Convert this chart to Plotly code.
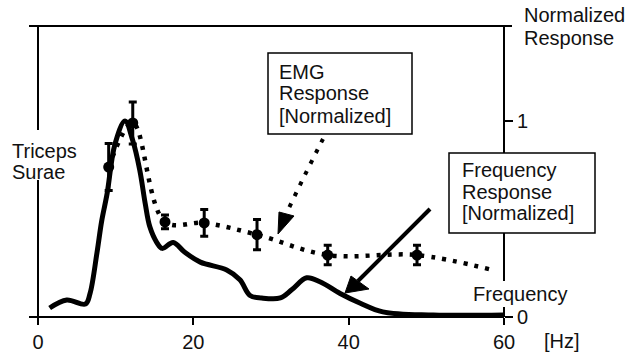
import plotly.graph_objects as go

# ---------------- data ----------------
freq_hz = [1.5, 3.7, 6.1, 6.7, 7.6, 8.2, 8.9, 9.9, 11.2, 12.2, 13.1, 13.8, 14.4, 15.3, 16.0,
           17.4, 18.9, 20.9, 24.3, 26.0, 27.3, 28.8, 31.2, 32.7, 34.6, 36.3, 38.9, 41.5,
           44.4, 50.9, 59.9]
freq_resp = [0.046, 0.087, 0.066, 0.12, 0.33, 0.49, 0.63, 0.88, 1.0, 0.9, 0.75, 0.58, 0.46,
             0.38, 0.35, 0.38, 0.33, 0.28, 0.24, 0.19, 0.11, 0.097, 0.097, 0.14, 0.2, 0.18,
             0.12, 0.07, 0.026, 0.01, 0.01]

emg_hz = [9.1, 12.2, 16.35, 21.4, 28.2, 37.3, 48.8]
emg_resp = [0.765, 0.99, 0.485, 0.48, 0.42, 0.316, 0.316]
emg_err = [0.12, 0.107, 0.035, 0.068, 0.077, 0.05, 0.05]
emg_tail_hz = [58.5]
emg_tail_resp = [0.24]

x_ticks = [0, 20, 40, 60]
x_tick_labels = ["0", "20", "40", "60"]
y_ticks = [0, 1]
y_tick_labels = ["0", "1"]

FONT = "Liberation Sans, Arial, Helvetica, sans-serif"
FS = 20

# plot area in pixels
L, R, T, B = 38, 504, 26, 317
W, H = 629, 353


def P(x, y):
    return (x - L) / (R - L), (B - y) / (B - T)


fig = go.Figure()

fig.add_trace(go.Scatter(
    x=freq_hz, y=freq_resp, mode="lines",
    line=dict(color="black", width=5, shape="spline", smoothing=1.0),
    hoverinfo="skip", showlegend=False))

fig.add_trace(go.Scatter(
    x=emg_hz + emg_tail_hz, y=emg_resp + emg_tail_resp, mode="lines",
    line=dict(color="black", width=4.5, shape="spline", dash="4px,7px"),
    hoverinfo="skip", showlegend=False))

fig.add_trace(go.Scatter(
    x=emg_hz, y=emg_resp, mode="markers",
    marker=dict(color="black", size=11),
    error_y=dict(type="data", array=emg_err, color="black", thickness=3, width=4),
    hoverinfo="skip", showlegend=False))

shapes = []


def seg(x0, y0, x1, y1, w=2):
    a = P(x0, y0)
    b = P(x1, y1)
    shapes.append(dict(type="line", xref="paper", yref="paper",
                       x0=a[0], y0=a[1], x1=b[0], y1=b[1],
                       line=dict(color="black", width=w)))


def poly(pts, w=1, fill=None):
    s = ""
    for i, (x, y) in enumerate(pts):
        px, py = P(x, y)
        s += ("M" if i == 0 else "L") + f" {px:.5f},{py:.5f} "
    s += "Z"
    d = dict(type="path", xref="paper", yref="paper", path=s,
             line=dict(color="black", width=w))
    if fill:
        d["fillcolor"] = fill
    shapes.append(d)


# axis frame
seg(29, 26, 512, 26)
seg(38, 26, 38, 130)
seg(38, 180, 38, 317)
seg(29, 317, 504, 317)
seg(504, 26, 504, 153)
seg(504, 233, 504, 281)
seg(504, 307, 504, 317)

# boxes
for (x0, y0, x1, y1) in [(268, 53, 412, 134), (449, 153, 595, 233)]:
    a = P(x0, y0)
    b = P(x1, y1)
    shapes.append(dict(type="rect", xref="paper", yref="paper",
                       x0=a[0], y0=a[1], x1=b[0], y1=b[1],
                       line=dict(color="black", width=1.5), fillcolor="white"))

# EMG dotted arrow (quadratic curve)
a = P(323, 139)
c = P(306, 172)
b = P(288, 210)
shapes.append(dict(type="path", xref="paper", yref="paper",
                   path=f"M {a[0]:.5f},{a[1]:.5f} Q {c[0]:.5f},{c[1]:.5f} {b[0]:.5f},{b[1]:.5f}",
                   line=dict(color="black", width=4, dash="4px,8px")))
poly([(278, 234), (279, 212), (294, 216)], fill="black")

# Frequency solid arrow
seg(430, 209, 358, 281, w=4)
poly([(345, 293), (351, 276), (369, 289)], fill="black")

ann = []


def text(t, x, y, xanchor="left"):
    px, py = P(x, y)
    ann.append(dict(text=t, x=px, y=py, xref="paper", yref="paper",
                    xanchor=xanchor, yanchor="middle", showarrow=False,
                    font=dict(family=FONT, size=FS, color="#111")))


text("Normalized", 522, 15)
text("Response", 522, 38)
text("Triceps", 10, 151)
text("Surae", 10, 172)
text("EMG", 277, 71.5)
text("Response", 277, 93.5)
text("[Normalized]", 277, 115.5)
text("Frequency", 460, 170)
text("Response", 460, 191.5)
text("[Normalized]", 460, 213.5)
text("Frequency", 471, 293.5)
text("[Hz]", 542, 341)

fig.update_layout(
    width=W, height=H, autosize=False,
    margin=dict(l=L, r=W - R, t=T, b=H - B, pad=0),
    paper_bgcolor="white", plot_bgcolor="white",
    shapes=shapes, annotations=ann,
    font=dict(family=FONT, size=FS, color="#111"),
    xaxis=dict(range=[0, 60], tickvals=x_ticks, ticktext=x_tick_labels,
               ticks="outside", ticklen=7, tickwidth=2, tickcolor="black",
               showline=False, showgrid=False, zeroline=False, automargin=False,
               fixedrange=True,
               tickfont=dict(family=FONT, size=FS, color="#111")),
    yaxis=dict(range=[0, (B - T) / 196.0], side="right", tickvals=y_ticks,
               ticktext=y_tick_labels, ticks="outside", ticklen=8, tickwidth=2,
               tickcolor="black", showline=False, showgrid=False, zeroline=False,
               automargin=False, fixedrange=True,
               tickfont=dict(family=FONT, size=FS, color="#111")),
)

fig.write_html("out.html", config={"displayModeBar": False},
               post_script="document.body.style.margin='0';document.body.style.overflow='hidden';")
